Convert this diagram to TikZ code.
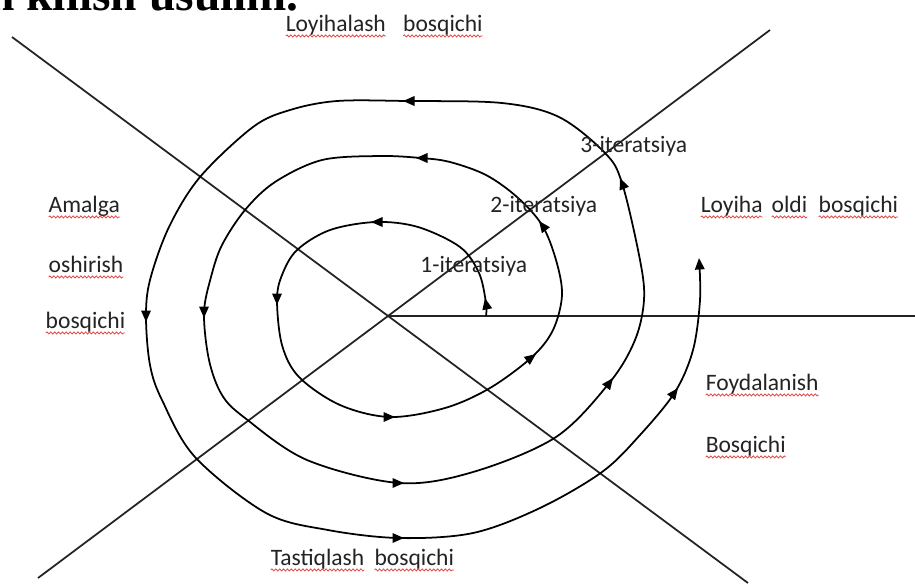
\documentclass[tikz,border=0pt]{standalone}
\usepackage{fontspec}
\setmainfont{Carlito}
\newfontfamily\headfont{Liberation Serif}
\usetikzlibrary{arrows.meta,decorations.pathmorphing}

\definecolor{ink}{RGB}{35,35,35}
\definecolor{spellred}{RGB}{225,70,70}

% word with a wavy spell-check underline
\newcommand{\sq}[1]{\tikz[baseline=(w.base)]{\node[inner sep=0pt, outer sep=0pt] (w) {#1};
    \draw[spellred, line width=0.45pt, decorate, decoration={snake, amplitude=0.6pt, segment length=2.2pt}]
        ([yshift=-2.8pt]w.base west) -- ([yshift=-2.8pt]w.base east);}}

\begin{document}
\begin{tikzpicture}[
    x=0.02cm, y=-0.02cm,
    axis/.style={line width=1pt, draw=ink},
    loop/.style={line width=1pt, draw=black},
    tip/.style={-{Triangle[length=2.3mm,width=1.9mm]}, line width=1pt},
    phase/.style={anchor=base west, inner sep=0pt, text=ink, font=\fontsize{13.4}{16}\selectfont},
    iter/.style={phase}
]

\useasboundingbox (0,0) rectangle (915,583);

% heading, cut by the page edge
\node[anchor=base west, inner sep=0pt, font=\headfont\bfseries\fontsize{27}{32}\selectfont] (head) at (-12,10) {n kilish usulini.};

% axes
\coordinate (O) at (388,316);
\coordinate (nw) at (12,37);
\coordinate (se) at (748,583);
\coordinate (sw) at (38,578);
\coordinate (ne) at (770,30);
\coordinate (east) at (915,316);
\draw[axis] (nw) -- (se);
\draw[axis] (sw) -- (ne);
\draw[axis] (O) -- (east);

% spiral
\draw[loop, -{Triangle[length=2.3mm,width=1.9mm]}] plot[smooth, tension=0.55] coordinates {
    (486,316) (486,303) (479,273) (460,247) (418,227) (376,222) (330,230) (297,250) (282,275) (277,300)
    (282,345) (299,377) (340,405) (390,417) (445,408) (490,388) (532,357) (553,330) (562,295) (556,260)
    (542,225) (517,197) (486,175) (450,162) (421,158) (380,156) (322,160) (275,182) (245,210) (222,245)
    (211,277) (204,313) (209,360) (222,395) (245,418) (307,460) (399,483) (473,472) (556,437) (610,382)
    (635,340) (644,300) (640,260) (622,183) (605,153) (559,117) (502,103) (408,101) (337,101) (290,110)
    (253,127) (200,177) (169,227) (150,280) (146,317) (150,365) (162,400) (195,457) (266,513) (328,530)
    (399,538) (473,533) (540,508) (602,472) (640,435) (675,392) (693,350) (700,300) (699,258)};

% arrowheads along the spiral
\foreach \xa/\ya/\xb/\yb in {487/308/485/298, 381/222/371/222, 277/295/277/305, 385/417/395/417,
    528/360/536/354, 545/229/539/221, 426/158/416/158, 204/308/204/318, 394/483/404/483,
    607/386/613/378, 624/188/620/178, 413/101/403/101, 146/312/146/322, 394/538/404/538,
    672/396/678/388}
    \draw[tip] (\xa,\ya) -- (\xb,\yb);

% phases
\node[phase] (plan) at (285,31) {\sq{Loyihalash}\hspace{0.7em}\sq{bosqichi}};
\node[phase] (pre) at (700,212) {\sq{Loyiha}\hspace{0.35em}\sq{oldi}\hspace{0.45em}\sq{bosqichi}};
\node[phase] (impl1) at (48,212) {\sq{Amalga}};
\node[phase] (impl2) at (48,272) {\sq{oshirish}};
\node[phase] (impl3) at (45,328) {\sq{bosqichi}};
\node[phase] (use1) at (705,390) {\sq{Foydalanish}};
\node[phase] (use2) at (705,452) {\sq{Bosqichi}};
\node[phase] (test) at (270,565) {\sq{Tastiqlash}\hspace{0.4em}\sq{bosqichi}};

% iterations
\node[iter] (it1) at (420,272) {1-iteratsiya};
\node[iter] (it2) at (490,212) {2-iteratsiya};
\node[iter] (it3) at (580,152) {3-iteratsiya};

\end{tikzpicture}
\end{document}
